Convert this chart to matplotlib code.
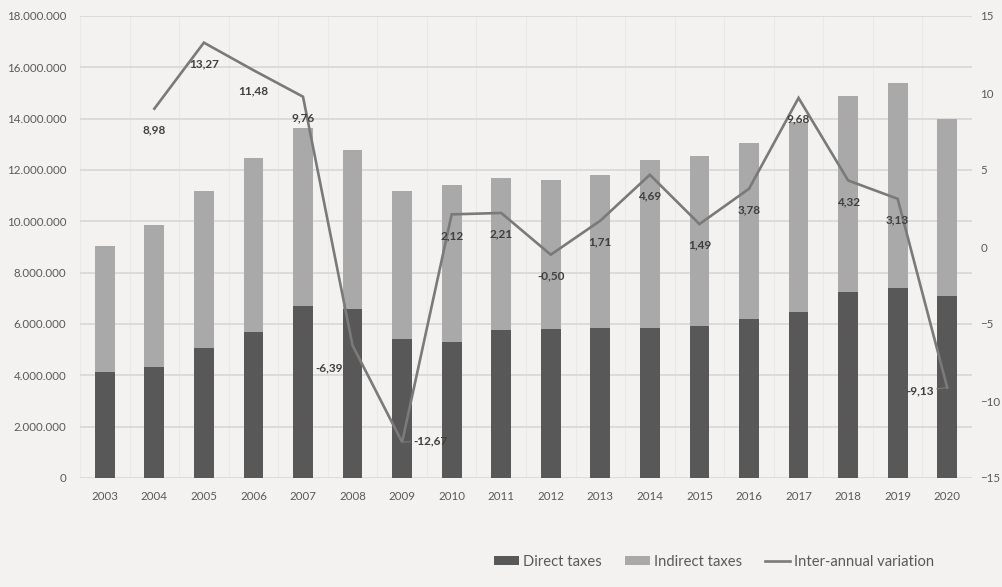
import matplotlib
matplotlib.use("Agg")
import matplotlib.pyplot as plt
from matplotlib.ticker import FuncFormatter
import numpy as np

years = ["2003", "2004", "2005", "2006", "2007", "2008", "2009", "2010", "2011",
         "2012", "2013", "2014", "2015", "2016", "2017", "2018", "2019", "2020"]
direct_taxes = [4130000, 4320000, 5060000, 5690000, 6700000, 6580000, 5410000, 5300000, 5770000,
                5800000, 5840000, 5840000, 5920000, 6190000, 6470000, 7250000, 7400000, 7090000]
total_taxes = [9040000, 9860000, 11180000, 12470000, 13640000, 12780000, 11180000, 11410000, 11690000,
               11610000, 11800000, 12390000, 12540000, 13050000, 13870000, 14880000, 15390000, 13980000]
indirect_taxes = [t - d for t, d in zip(total_taxes, direct_taxes)]
variation = [None, 8.98, 13.27, 11.48, 9.76, -6.39, -12.67, 2.12, 2.21,
             -0.50, 1.71, 4.69, 1.49, 3.78, 9.68, 4.32, 3.13, -9.13]
left_ticks = list(range(0, 18000001, 2000000))
right_ticks = list(range(-15, 16, 5))

plt.rcParams['font.family'] = ['Lato', 'DejaVu Sans']

BG = '#f3f2f0'
DARK = '#585858'
LIGHT = '#a9a9a9'
LINE = '#7a7a7a'
TXT = '#595959'

fig = plt.figure(figsize=(10.03, 5.87), dpi=100, facecolor=BG)
ax = fig.add_axes([80 / 1003, 1 - 478 / 587, 892 / 1003, 462 / 587])
ax.set_facecolor(BG)
x = np.arange(len(years))

ax.bar(x, direct_taxes, width=0.40, color=DARK, label='Direct taxes', zorder=3)
ax.bar(x, indirect_taxes, width=0.40, bottom=direct_taxes, color=LIGHT, label='Indirect taxes', zorder=3)

ax.set_xlim(-0.5, len(years) - 0.5)
ax.set_ylim(0, 18000000)
ax.set_yticks(left_ticks)
ax.yaxis.set_major_formatter(FuncFormatter(lambda v, p: f"{int(v):,}".replace(",", ".")))
ax.set_xticks(x)
ax.set_xticklabels(years)
ax.tick_params(axis='both', length=0, labelsize=8.3, colors=TXT)
ax.tick_params(axis='y', pad=10)
ax.tick_params(axis='x', pad=9)
ax.grid(axis='y', color='#d9d9d7', linewidth=1.3, zorder=0)
for b in np.arange(-0.5, len(years), 1.0):
    ax.axvline(b, color='#eae9e7', linewidth=0.8, zorder=0)
for s in ax.spines.values():
    s.set_visible(False)

ax2 = ax.twinx()
ax2.set_ylim(-15, 15)
ax2.set_yticks(right_ticks)
ax2.tick_params(axis='y', length=0, labelsize=8.3, colors=TXT, pad=6)
for s in ax2.spines.values():
    s.set_visible(False)

vx = [i for i, v in enumerate(variation) if v is not None]
vy = [v for v in variation if v is not None]
ln, = ax2.plot(vx, vy, color=LINE, linewidth=1.9, label='Inter-annual variation', zorder=4,
               solid_joinstyle='miter')

offsets = {5: (-23, -22), 6: (28, 1), 17: (-27, -3)}
for i, v in zip(vx, vy):
    dx, dy = offsets.get(i, (0, -21))
    txt = f"{v:.2f}".replace(".", ",")
    kw = {}
    if i in (6, 17):
        kw['arrowprops'] = dict(arrowstyle='-', color=LINE, linewidth=0.8, shrinkA=0, shrinkB=0)
    ax2.annotate(txt, (i, v), xytext=(dx, dy), textcoords='offset pixels',
                 ha='center', va='center', fontsize=8.5, fontweight='bold', color='#3f3f3f', zorder=5, **kw)

h1, l1 = ax.get_legend_handles_labels()
leg = fig.legend(h1 + [ln], l1 + ['Inter-annual variation'], loc='center',
                 bbox_to_anchor=(714 / 1003, 1 - 562 / 587), ncol=3, frameon=False,
                 fontsize=10.6, handlelength=1.7, handleheight=0.55, handletextpad=0.25,
                 columnspacing=1.6, labelcolor=TXT)

fig.savefig('out.png', dpi=100, facecolor=BG)
